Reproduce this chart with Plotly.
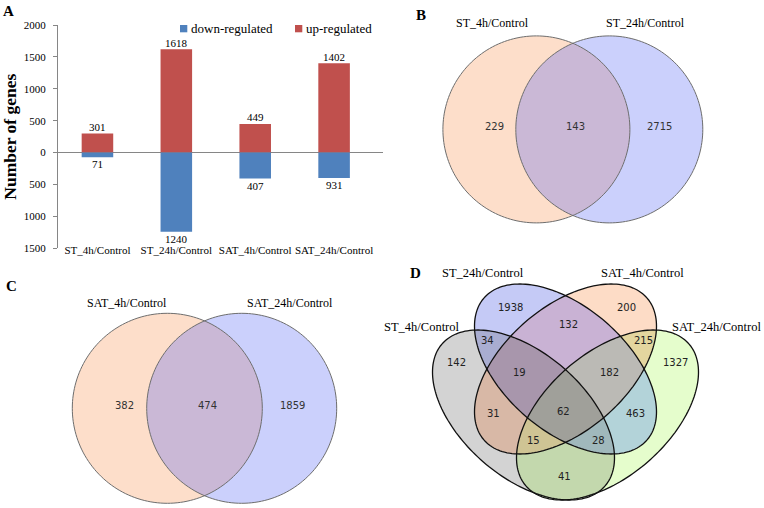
import numpy as np
import plotly.graph_objects as go

W, H = 764, 508

# ---------------- Panel A data ----------------
categories = ["ST_4h/Control", "ST_24h/Control", "SAT_4h/Control", "SAT_24h/Control"]
up_regulated = [301, 1618, 449, 1402]
down_regulated_bar = [71, 1240, 407, 400]      # bar length as drawn in the figure
down_regulated_label = [71, 1240, 407, 931]    # value printed under the bar
y_tickvals = [-1500, -1000, -500, 0, 500, 1000, 1500, 2000]
y_ticktext = ["1500", "1000", "500", "0", "500", "1000", "1500", "2000"]
legend_names = ["down-regulated", "up-regulated"]

# ---------------- Panel B data ----------------
venn_b_sets = ["ST_4h/Control", "ST_24h/Control"]
venn_b_regions = [1, 3, 2]
venn_b_counts = [229, 143, 2715]

# ---------------- Panel C data ----------------
venn_c_sets = ["SAT_4h/Control", "SAT_24h/Control"]
venn_c_regions = [1, 3, 2]
venn_c_counts = [382, 474, 1859]

# ---------------- Panel D data ----------------
# bit 1 = ST_4h, 2 = ST_24h, 4 = SAT_4h, 8 = SAT_24h
venn_d_sets = ["ST_4h/Control", "ST_24h/Control", "SAT_4h/Control", "SAT_24h/Control"]
venn_d_regions = [1, 2, 4, 8, 3, 5, 6, 9, 10, 12, 7, 11, 13, 14, 15]
venn_d_counts = [142, 1938, 200, 1327, 34, 31, 132, 41, 463, 215, 19, 28, 15, 182, 62]

# ---------------- styles / layout (pixel space) ----------------
RED, BLUE = "#C0504D", "#4F81BD"
AXC = "#868686"
SERIF = "Liberation Serif"
SANS = "DejaVu Sans"

# ellipse = (cx, cy, sxx, syy, sxy) in pixel space (y down)
B_ELL = [(536.4, 129.4, 93.5**2, 93.5**2, 0.0), (609.3, 129.4, 93.5**2, 93.5**2, 0.0)]
C_ELL = [(167.3, 408.3, 95.0**2, 95.0**2, 0.0), (241.7, 408.3, 95.0**2, 95.0**2, 0.0)]
HX, HY, CXY = 91.0, 85.0, 3900.0
D_ELL = [(523.5, 415.0, HX**2, HY**2, CXY),
         (565.5, 369.0, HX**2, HY**2, CXY),
         (565.5, 369.0, HX**2, HY**2, -CXY),
         (607.5, 415.0, HX**2, HY**2, -CXY)]

B_COL = {1: "#FDDECA", 2: "#CBD0FC", 3: "#CAB8D6"}
D_COL = {1: "#D3D3D3", 2: "#C5CAF6", 4: "#FDDCC6", 8: "#E5FDCC",
         3: "#A9ADD1", 5: "#D8B8A6", 6: "#C9B2D4", 9: "#C3D8AD",
         10: "#B3D3D9", 12: "#E4D69F", 7: "#A896AC", 11: "#A0B8BC",
         13: "#CFC494", 14: "#BBBAB5", 15: "#A0A09A"}

B_POS = [(494.3, 126.7), (575.7, 126.7), (659.3, 126.7)]
C_POS = [(124.0, 405.7), (207.3, 405.7), (292.7, 405.7)]
D_POS = {1: (456.7, 362.3), 2: (510.0, 307.7), 4: (626.7, 307.7), 8: (675.0, 362.3),
         3: (487.3, 340.0), 12: (643.3, 340.0), 6: (568.3, 324.3), 7: (519.3, 372.7),
         14: (609.3, 372.7), 5: (493.3, 413.3), 15: (563.3, 411.7), 10: (635.0, 413.3),
         13: (533.3, 440.7), 11: (598.3, 440.7), 9: (564.3, 476.3)}
B_LAB = [(492.8, 23.3), (645.3, 23.3)]
C_LAB = [(127.0, 302.7), (289.5, 302.7)]
D_LAB = [(421.7, 326.5), (483.3, 272.7), (642.5, 272.7), (716.7, 326.5)]


def venn_heatmap(ells, colors, box):
    x0, x1, y0, y1 = box
    xs = np.arange(x0, x1) + 0.5
    ys = np.arange(y0, y1) + 0.5
    X, Y = np.meshgrid(xs, ys)
    mask = np.zeros(X.shape, dtype=int)
    for bit, (cx, cy, sxx, syy, sxy) in enumerate(ells):
        Si = np.linalg.inv(np.array([[sxx, sxy], [sxy, syy]]))
        dx, dy = X - cx, Y - cy
        q = Si[0, 0] * dx * dx + 2 * Si[0, 1] * dx * dy + Si[1, 1] * dy * dy
        mask |= (q <= 1).astype(int) << bit
    n = 2 ** len(ells) - 1
    z = [[(int(v) if v > 0 else None) for v in row] for row in mask]
    cs = []
    for k in range(1, n + 1):
        c = colors.get(k, "#FFFFFF")
        cs.append([(k - 1) / n, c])
        cs.append([k / n, c])
    return go.Heatmap(x=xs.tolist(), y=ys.tolist(), z=z, colorscale=cs, zmin=0.5, zmax=n + 0.5,
                      zsmooth=False, showscale=False, hoverinfo="skip", xaxis="x2", yaxis="y2")


def ellipse_path(cx, cy, sxx, syy, sxy, n=180):
    l11 = np.sqrt(sxx)
    l21 = sxy / l11
    l22 = np.sqrt(syy - l21 ** 2)
    t = np.linspace(0, 2 * np.pi, n, endpoint=False)
    xs = cx + l11 * np.cos(t)
    ys = cy + l21 * np.cos(t) + l22 * np.sin(t)
    return "M " + " L ".join(f"{x:.2f},{y:.2f}" for x, y in zip(xs, ys)) + " Z"


fig = go.Figure()

# ---------------- Panel A: bars ----------------
fig.add_trace(go.Bar(x=categories, y=up_regulated, width=0.4, marker=dict(color=RED, line=dict(width=0)),
                     name=legend_names[1], showlegend=False, hoverinfo="skip"))
fig.add_trace(go.Bar(x=categories, y=[-v for v in down_regulated_bar], width=0.4,
                     marker=dict(color=BLUE, line=dict(width=0)),
                     name=legend_names[0], showlegend=False, hoverinfo="skip"))

# ---------------- Venn fills ----------------
fig.add_trace(venn_heatmap(B_ELL, B_COL, (438, 708, 30, 230)))
fig.add_trace(venn_heatmap(C_ELL, B_COL, (68, 342, 308, 508)))
fig.add_trace(venn_heatmap(D_ELL, D_COL, (428, 704, 280, 508)))

shapes = []
for (cx, cy, sxx, syy, sxy) in B_ELL + C_ELL:
    shapes.append(dict(type="path", xref="x2", yref="y2", path=ellipse_path(cx, cy, sxx, syy, sxy),
                       line=dict(color="#6E6E6E", width=1), fillcolor="rgba(0,0,0,0)"))
for (cx, cy, sxx, syy, sxy) in D_ELL:
    shapes.append(dict(type="path", xref="x2", yref="y2", path=ellipse_path(cx, cy, sxx, syy, sxy),
                       line=dict(color="#111111", width=1.3), fillcolor="rgba(0,0,0,0)"))

# manual legend squares for panel A
shapes.append(dict(type="rect", xref="x2", yref="y2", x0=180, x1=187.3, y0=25, y1=32.3,
                   fillcolor=BLUE, line=dict(width=0)))
shapes.append(dict(type="rect", xref="x2", yref="y2", x0=295, x1=302.3, y0=25, y1=32.3,
                   fillcolor=RED, line=dict(width=0)))

ann = []

# bar value labels (data coordinates of panel A)
for c, v in zip(categories, up_regulated):
    ann.append(dict(x=c, y=v, xref="x", yref="y", text=str(v), showarrow=False, xanchor="center",
                    yanchor="middle", yshift=6.5, font=dict(family=SERIF, size=11, color="black")))
for c, v, lab in zip(categories, down_regulated_bar, down_regulated_label):
    ann.append(dict(x=c, y=-v, xref="x", yref="y", text=str(lab), showarrow=False, xanchor="center",
                    yanchor="middle", yshift=-7.0, font=dict(family=SERIF, size=11, color="black")))


def txt(x, y, s, size, family, color="black", anchor="center"):
    ann.append(dict(x=x, y=y, xref="x2", yref="y2", text=s, showarrow=False, xanchor=anchor,
                    yanchor="middle", font=dict(family=family, size=size, color=color)))


txt(188.5, 28.7, legend_names[0], 13, SERIF, anchor="left")
txt(303.5, 28.7, legend_names[1], 13, SERIF, anchor="left")

# panel letters
txt(8.5, 11, "<b>A</b>", 15, SERIF)
txt(420.7, 15, "<b>B</b>", 15, SERIF)
txt(11.7, 286, "<b>C</b>", 15, SERIF)
txt(415, 273.3, "<b>D</b>", 15, SERIF)

for (x, y), s in zip(B_LAB, venn_b_sets):
    txt(x, y, s, 12, SERIF)
for (x, y), v in zip(B_POS, venn_b_counts):
    txt(x, y, str(v), 10, SANS, "#333333")
for (x, y), s in zip(C_LAB, venn_c_sets):
    txt(x, y, s, 12, SERIF)
for (x, y), v in zip(C_POS, venn_c_counts):
    txt(x, y, str(v), 10, SANS, "#333333")
for (x, y), s in zip(D_LAB, venn_d_sets):
    txt(x, y, s, 12.5, SERIF)
for r, v in zip(venn_d_regions, venn_d_counts):
    x, y = D_POS[r]
    txt(x, y, str(v), 10, SANS, "#222222")

fig.update_layout(
    width=W, height=H, margin=dict(l=0, r=0, t=0, b=0, autoexpand=False),
    paper_bgcolor="white", plot_bgcolor="rgba(0,0,0,0)",
    barmode="overlay", showlegend=False, hovermode=False,
    xaxis=dict(domain=[58 / W, 383 / W], range=[-0.5, 3.62], anchor="free", position=(H - 241.5) / H,
               showline=False, showgrid=False, zeroline=False, ticks="", automargin=False,
               tickfont=dict(family=SERIF, size=11, color="black")),
    yaxis=dict(domain=[(H - 248.3) / H, (H - 25) / H], range=[-1500, 2000], anchor="x",
               tickvals=y_tickvals, ticktext=y_ticktext, showline=True, linecolor=AXC, linewidth=1,
               ticks="outside", ticklen=4, tickcolor=AXC, ticklabelstandoff=5, automargin=False,
               showgrid=False, zeroline=True, zerolinecolor=AXC, zerolinewidth=1,
               tickfont=dict(family=SERIF, size=11, color="black"),
               title=dict(text="<b>Number of genes</b>", font=dict(family=SERIF, size=17.5, color="black"),
                          standoff=3)),
    xaxis2=dict(domain=[0, 1], range=[0, W], visible=False, anchor="y2", automargin=False),
    yaxis2=dict(domain=[0, 1], range=[H, 0], visible=False, anchor="x2", automargin=False),
    shapes=shapes, annotations=ann,
)

fig.write_html("out.html", config={"displayModeBar": False, "staticPlot": True},
               post_script="document.body.style.margin='0';document.body.style.overflow='hidden';")
